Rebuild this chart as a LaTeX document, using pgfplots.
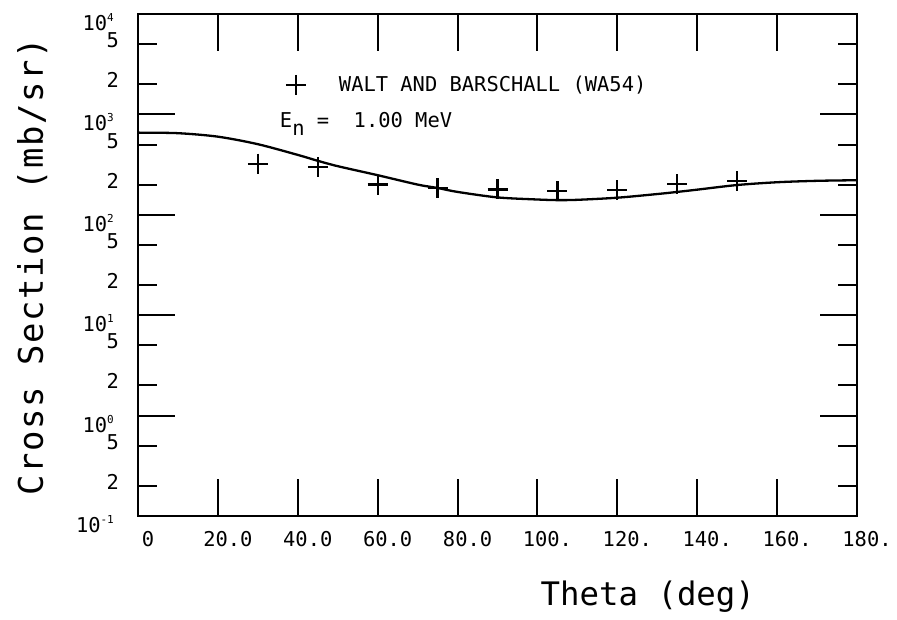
\documentclass[border=0pt]{standalone}
\usepackage{fontspec}
\setmainfont{DejaVu Sans Mono}
\usepackage{pgfplots}
\pgfplotsset{compat=1.18}
\newcommand{\dec}[1]{10\raisebox{9bp}{\fontsize{11}{11}\selectfont #1}}
\newcommand{\tfont}{\fontsize{20.5}{24}\selectfont}
\begin{document}
\begin{tikzpicture}
\useasboundingbox (0,0) rectangle (897bp,620bp);
\begin{axis}[
  at={(138bp,104bp)}, anchor=south west,
  scale only axis, width=719bp, height=502bp,
  xmin=0, xmax=180, ymode=log, ymin=0.1, ymax=10000,
  xminorticks=false, yminorticks=false,
  tick align=inside,
  major tick length=37bp,
  axis line style={line width=2bp},
  every tick/.style={line width=2bp, black},
  every major tick/.style={line width=2bp, black},
  xtick={0,20,...,180},
  xticklabels={0,20.0,40.0,60.0,80.0,100.,120.,140.,160.,180.},
  xticklabel style={font=\tfont, anchor=center, inner sep=0pt, yshift=-23bp, xshift=10bp},
  ytick={0.1,1,10,100,1000,10000},
  yticklabels={\dec{-1},\dec{0},\dec{1},\dec{2},\dec{3},\dec{4}},
  yticklabel style={font=\tfont, anchor=base east, inner sep=0pt, xshift=-24bp, yshift=-16.5bp},
  extra y ticks={0.2,0.5,2,5,20,50,200,500,2000,5000},
  extra y tick labels={2,5,2,5,2,5,2,5,2,5},
  extra y tick style={major tick length=19bp, yticklabel style={xshift=5bp, yshift=13bp}},
  xlabel={Theta (deg)},
  xlabel style={font=\fontsize{32.5}{36}\selectfont, at={(axis description cs:0.709,-0.161)}, anchor=center, inner sep=0pt},
  ylabel={\addfontfeature{LetterSpace=4.7}Cross Section (mb/sr)},
  ylabel style={font=\fontsize{34}{38}\selectfont, at={(axis description cs:-0.147,0.496)}, anchor=center, rotate=0, inner sep=0pt},
  legend style={at={(axis description cs:0.2058,0.8785)}, anchor=north west, draw=none, fill=none,
    inner sep=0pt, outer sep=0pt, font=\tfont, row sep=17bp, column sep=33bp,
    nodes={inner sep=0pt}},
  legend cell align=left,
]
\addplot[black, line width=2.3bp, smooth, tension=0.5, forget plot] coordinates {
(0,658) (10,650) (20,600) (30,505) (40,395) (45,345) (50,305) (60,248) (70,200) (75,185)
(80,169) (90,149) (100,142) (105,140) (110,141) (120,148) (130,161) (135,169) (140,178)
(150,198) (160,211) (170,218) (180,221)};
\addplot[black, only marks, mark=+, mark size=10bp, mark options={line width=2.2bp}] coordinates {
(30,323) (45,299) (60,200) (75,184) (90,179) (105,172) (120,176) (135,202) (150,216)};
\addlegendentry{WALT AND BARSCHALL (WA54)}
\addlegendimage{empty legend}
\addlegendentry{\hspace*{-59bp}E\raisebox{-8bp}{n} = ~1.00 MeV}
\end{axis}
\end{tikzpicture}
\end{document}
